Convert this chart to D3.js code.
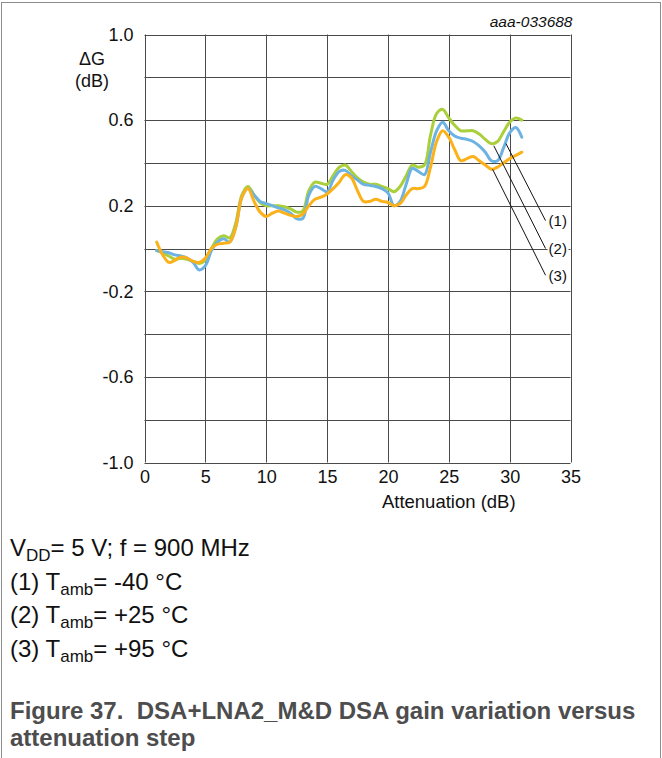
<!DOCTYPE html>
<html>
<head>
<meta charset="utf-8">
<script src="https://cdn.jsdelivr.net/npm/d3@7"></script>
<style>
  html, body { margin: 0; padding: 0; background: #fff; }
  svg { display: block; font-family: "Liberation Sans", Arial, sans-serif; }
  text { white-space: pre; }
</style>
</head>
<body>
<svg id="chart" width="662" height="758"></svg>
<script>
// ---- data ----
const attenuation = [1,1.5,2,2.5,3,3.5,4,4.5,5,5.5,6,6.5,7,7.5,8,8.5,9,9.5,10,10.5,11,11.5,12,12.5,13,13.5,14,14.5,15,15.5,16,16.5,17,17.5,18,18.5,19,19.5,20,20.5,21,21.5,22,22.5,23,23.5,24,24.5,25,25.5,26,26.5,27,27.5,28,28.5,29,29.5,30,30.5,31];
const gainM40 = [-0.01,-0.02,-0.035,-0.05,-0.045,-0.05,-0.06,-0.07,-0.055,0.0,0.045,0.06,0.05,0.12,0.25,0.29,0.25,0.215,0.20,0.20,0.20,0.195,0.185,0.17,0.175,0.27,0.31,0.305,0.30,0.34,0.38,0.39,0.36,0.33,0.31,0.30,0.30,0.29,0.28,0.265,0.29,0.34,0.39,0.38,0.39,0.53,0.63,0.65,0.61,0.575,0.55,0.55,0.55,0.535,0.51,0.49,0.50,0.545,0.59,0.61,0.60];
const gainP25 = [-0.01,-0.015,-0.02,-0.03,-0.035,-0.045,-0.065,-0.10,-0.08,-0.01,0.03,0.045,0.03,0.10,0.24,0.28,0.25,0.22,0.21,0.20,0.19,0.18,0.165,0.14,0.14,0.25,0.29,0.28,0.265,0.32,0.36,0.365,0.34,0.32,0.30,0.295,0.29,0.28,0.26,0.20,0.22,0.30,0.375,0.36,0.345,0.45,0.55,0.59,0.55,0.525,0.515,0.51,0.50,0.48,0.45,0.41,0.41,0.47,0.54,0.565,0.52];
const gainP95 = [0.03,-0.03,-0.065,-0.055,-0.04,-0.045,-0.06,-0.065,-0.045,0.0,0.02,0.025,0.03,0.10,0.24,0.28,0.22,0.17,0.15,0.165,0.175,0.165,0.155,0.15,0.16,0.20,0.23,0.24,0.255,0.28,0.31,0.345,0.33,0.27,0.22,0.22,0.23,0.22,0.215,0.20,0.21,0.25,0.28,0.28,0.29,0.38,0.50,0.55,0.52,0.46,0.41,0.42,0.43,0.41,0.39,0.37,0.38,0.40,0.42,0.435,0.45];
const seriesNames = ["(1)", "(2)", "(3)"];
const seriesColors = ["#a9cf3b", "#6cb2e2", "#fbb11a"];
const xTicks = [0,5,10,15,20,25,30,35];
const yTicks = [-1.0,-0.6,-0.2,0.2,0.6,1.0];
const yGrid = [-1.0,-0.8,-0.6,-0.4,-0.2,0.0,0.2,0.4,0.6,0.8,1.0];
// leader lines: start point near curves (data units) and label anchor
const leaderStartX = [29.7, 28.7, 28.6];
const leaderStartY = [0.49, 0.48, 0.37];
const leaderEndX = [32.95, 32.95, 32.95];
const leaderEndY = [0.13, 0.0, -0.125];
const footLines = [
  {pre: "V", sub: "DD", post: "= 5 V; f = 900 MHz"},
  {pre: "(1) T", sub: "amb", post: "= -40 °C"},
  {pre: "(2) T", sub: "amb", post: "= +25 °C"},
  {pre: "(3) T", sub: "amb", post: "= +95 °C"}
];
const captionLines = ["Figure 37.  DSA+LNA2_M&D DSA gain variation versus", "attenuation step"];

// ---- drawing ----
const svg = d3.select("#chart");
const W = 662, H = 758;
const plot = {left: 144.5, right: 570.5, top: 34.5, bottom: 462.5};
const x = d3.scaleLinear().domain([0, 35]).range([plot.left, plot.right]);
const y = d3.scaleLinear().domain([-1, 1]).range([plot.bottom, plot.top]);
const fmtY = d => d.toFixed(1);

// outer frame
svg.append("rect").attr("x", 1.5).attr("y", 2.5).attr("width", W - 3).attr("height", H + 20)
  .attr("fill", "none").attr("stroke", "#8c8c8c").attr("stroke-width", 1);

const gridColor = "#4a4a4a";
const g = svg.append("g");
g.selectAll("line.vg").data(xTicks).enter().append("line")
  .attr("x1", d => Math.round(x(d)) + 0.5).attr("x2", d => Math.round(x(d)) + 0.5)
  .attr("y1", plot.top).attr("y2", plot.bottom)
  .attr("stroke", gridColor).attr("stroke-width", 1);
g.selectAll("line.hg").data(yGrid).enter().append("line")
  .attr("x1", plot.left).attr("x2", plot.right)
  .attr("y1", d => Math.round(y(d)) + 0.5).attr("y2", d => Math.round(y(d)) + 0.5)
  .attr("stroke", gridColor).attr("stroke-width", 1);

// axes (labels via d3 axes)
const yAxis = d3.axisLeft(y).tickValues(yTicks).tickFormat(fmtY).tickSize(0).tickPadding(11);
const ya = svg.append("g").attr("transform", `translate(${plot.left},0)`).call(yAxis);
ya.select(".domain").remove();
ya.selectAll("text").attr("font-size", 18).attr("fill", "#111").attr("font-family", "Liberation Sans, Arial, sans-serif");

const xAxis = d3.axisBottom(x).tickValues(xTicks).tickFormat(d3.format("d")).tickSize(0).tickPadding(8);
const xa = svg.append("g").attr("transform", `translate(0,${plot.bottom})`).call(xAxis);
xa.select(".domain").remove();
xa.selectAll("text").attr("font-size", 18).attr("fill", "#111").attr("font-family", "Liberation Sans, Arial, sans-serif");

// axis titles
svg.append("text").attr("x", x(25)).attr("y", 508).attr("text-anchor", "middle")
  .attr("font-size", 18.5).attr("fill", "#111").text("Attenuation (dB)");
svg.append("text").attr("x", 92).attr("y", 65).attr("text-anchor", "middle")
  .attr("font-size", 18).attr("fill", "#111").text("ΔG");
svg.append("text").attr("x", 92).attr("y", 87).attr("text-anchor", "middle")
  .attr("font-size", 18).attr("fill", "#111").text("(dB)");
svg.append("text").attr("x", plot.right + 2).attr("y", 27).attr("text-anchor", "end")
  .attr("font-size", 15.5).attr("font-style", "italic").attr("fill", "#111").text("aaa-033688");

// curves
const allSeries = [gainM40, gainP25, gainP95];
const line = d3.line().x(d => x(d[0])).y(d => y(d[1])).curve(d3.curveCatmullRom.alpha(0.5));
allSeries.forEach((vals, i) => {
  svg.append("path")
    .datum(attenuation.map((a, k) => [a, vals[k]]))
    .attr("d", line)
    .attr("fill", "none")
    .attr("stroke", seriesColors[i])
    .attr("stroke-width", 3)
    .attr("stroke-linejoin", "round")
    .attr("stroke-linecap", "round");
});

// leader lines and labels
seriesNames.forEach((name, i) => {
  svg.append("line")
    .attr("x1", x(leaderStartX[i])).attr("y1", y(leaderStartY[i]))
    .attr("x2", x(leaderEndX[i])).attr("y2", y(leaderEndY[i]))
    .attr("stroke", "#111").attr("stroke-width", 1);
  const lx = x(leaderEndX[i]) + 2, ly = y(leaderEndY[i]);
  svg.append("rect").attr("x", lx).attr("y", ly - 9).attr("width", 21).attr("height", 18).attr("fill", "#fff");
  svg.append("text").attr("x", lx + 1).attr("y", ly + 5.5).attr("font-size", 15).attr("fill", "#111").text(name);
});

// footnotes
footLines.forEach((fl, i) => {
  const t = svg.append("text").attr("x", 10).attr("y", 556 + i * 33.5).attr("font-size", 24).attr("fill", "#111");
  t.append("tspan").text(fl.pre);
  t.append("tspan").attr("font-size", 17).attr("dy", 5).text(fl.sub);
  t.append("tspan").attr("dy", -5).text(fl.post);
});

// caption
captionLines.forEach((c, i) => {
  svg.append("text").attr("x", 10).attr("y", 719 + i * 27).attr("font-size", 24).attr("font-weight", "bold")
    .attr("fill", "#4d4d4d").text(c);
});
</script>
</body>
</html>
